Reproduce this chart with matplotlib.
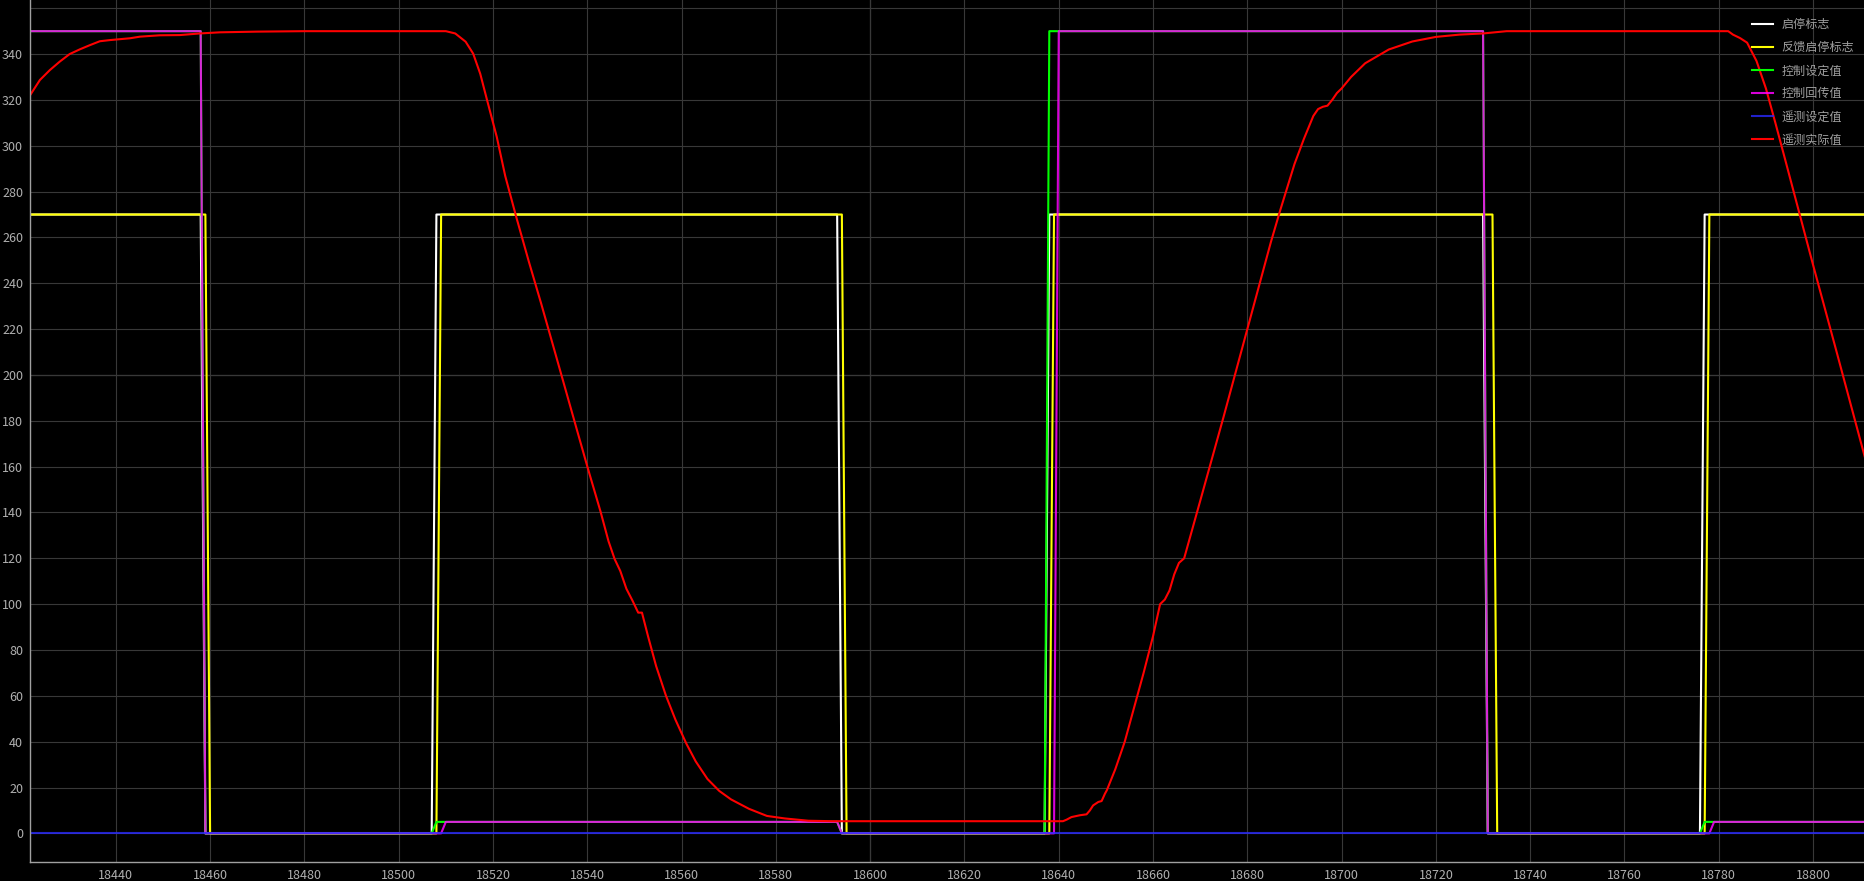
import matplotlib.pyplot as plt

plt.rcParams['font.family'] = ['Noto Sans CJK SC', 'DejaVu Sans']

# 启停标志
flag_x = [18421, 18458, 18459, 18507, 18508, 18593, 18594, 18637, 18638, 18730, 18731, 18776, 18777, 18811]
flag_y = [270, 270, 0, 0, 270, 270, 0, 0, 270, 270, 0, 0, 270, 270]
# 反馈启停标志
fb_x = [18421, 18459, 18460, 18508, 18509, 18594, 18595, 18638, 18639, 18732, 18733, 18777, 18778, 18811]
fb_y = [270, 270, 0, 0, 270, 270, 0, 0, 270, 270, 0, 0, 270, 270]
# 控制设定值
ctrl_x = [18421, 18458, 18459, 18507, 18508, 18593, 18594, 18637, 18638, 18730, 18731, 18776, 18777, 18811]
ctrl_y = [350, 350, 0, 0, 5, 5, 0, 0, 350, 350, 0, 0, 5, 5]
# 控制回传值
back_x = [18421, 18458, 18459, 18509, 18510, 18593, 18594, 18639, 18640, 18730, 18731, 18778, 18779, 18811]
back_y = [350, 350, 0, 0, 5, 5, 0, 0, 350, 350, 0, 0, 5, 5]
# 遥测设定值
tset_x = [18421, 18811]
tset_y = [0, 0]
# 遥测实际值
act_x = [18421.8, 18423.9, 18426.0, 18428.1, 18430.2, 18432.4, 18434.5, 18436.6, 18438.7, 18443.0,
         18445.1, 18449.3, 18453.6, 18457.8, 18462.1, 18470, 18480, 18510, 18512.0, 18514.2,
         18515.8, 18517.3, 18518.8, 18520.8, 18522.6, 18524.9, 18527.6, 18530.2, 18532.7, 18535.2,
         18537.7, 18540.2, 18542.8, 18544.5, 18545.8, 18547.0, 18548.3, 18549.6, 18550.8, 18551.6,
         18552.9, 18554.6, 18556.7, 18558.7, 18561.0, 18563.0, 18565.5, 18568.0, 18570.5, 18574.3,
         18578.1, 18581.9, 18586.9, 18592.0, 18640.9, 18641.7, 18642.7, 18644.5, 18645.9, 18646.6,
         18647.3, 18648.4, 18649.1, 18649.8, 18650.2, 18652, 18654, 18656, 18658, 18660,
         18661.5, 18662.5, 18663.5, 18664.5, 18665.5, 18666.6, 18670, 18675, 18680, 18685,
         18687, 18690, 18692, 18694, 18695, 18696, 18697, 18698, 18699, 18700,
         18702, 18705, 18710, 18715, 18720, 18725, 18730, 18735, 18782,
         18783, 18784.5, 18786, 18788, 18790, 18792, 18794.1, 18800, 18805, 18811]
act_y = [322.0, 328.7, 333.0, 336.7, 340.0, 342.1, 343.9, 345.6, 346.1, 346.9,
         347.6, 348.2, 348.3, 349.0, 349.5, 349.8, 350, 350, 349.0, 345.4,
         340.2, 331.4, 319.5, 303.9, 286.8, 269.2, 249.5, 231.3, 213.2, 195.0,
         176.8, 158.7, 140.5, 127.5, 119.7, 114.5, 106.7, 101.5, 96.3, 96.3,
         85.9, 73.0, 60.0, 49.6, 39.2, 31.4, 23.7, 18.5, 14.8, 10.7,
         7.6, 6.5, 5.5, 5.3, 5.3, 6.0, 7.1, 7.9, 8.3, 10.0,
         12.2, 13.7, 14.1, 17.3, 18.8, 28, 40, 55, 70, 86,
         100, 102, 106, 113, 118, 120, 145, 182, 220, 258,
         272, 292, 303, 313, 316, 317, 317.5, 320, 323, 325,
         330, 336, 342, 345.5, 347.5, 348.5, 349, 350, 350,
         348.5, 347, 345, 337, 325, 310, 293.8, 248, 210, 164]

labels = ['启停标志', '反馈启停标志', '控制设定值', '控制回传值', '遥测设定值', '遥测实际值']

fig = plt.figure(figsize=(18.64, 8.81), dpi=100, facecolor='black')
ax = fig.add_axes([30 / 1864, 1 - 862 / 881, 1 - 30 / 1864, 862 / 881])
ax.set_facecolor('black')

ax.plot(flag_x, flag_y, color='white', lw=1.5, label=labels[0])
ax.plot(fb_x, fb_y, color='yellow', lw=1.5, label=labels[1])
ax.plot(ctrl_x, ctrl_y, color='#00ff00', lw=1.5, label=labels[2])
ax.plot(back_x, back_y, color='magenta', lw=1.5, alpha=0.85, label=labels[3])
ax.plot(tset_x, tset_y, color='#2a2aff', lw=1.5, alpha=0.8, label=labels[4])
ax.plot(act_x, act_y, color='red', lw=1.5, label=labels[5])

ax.set_xlim(18421.8, 18810.8)
ax.set_ylim(-12.5, 363.6)
ax.set_xticks(range(18440, 18801, 20))
yt = list(range(0, 361, 20))
ax.set_yticks(yt)
ax.set_yticklabels([str(v) if v < 360 else '' for v in yt])

ax.grid(True, color='#383838', lw=0.8)
ax.axvline(18600, color='#909090', lw=0.8, zorder=0.5)
ax.axhline(200, color='#909090', lw=0.8, zorder=0.5)
ax.set_axisbelow(True)

for s in ['top', 'right']:
    ax.spines[s].set_visible(False)
for s in ['left', 'bottom']:
    ax.spines[s].set_color('#a0a0a0')
    ax.spines[s].set_linewidth(1)
ax.tick_params(colors='#b0b0b0', length=0, labelsize=9, pad=5)

leg = ax.legend(loc='upper right', bbox_to_anchor=(1.0, 0.990), frameon=False, fontsize=8.7,
                handlelength=1.75, handletextpad=0.7, labelspacing=0.83, borderaxespad=0.4)
for t in leg.get_texts():
    t.set_color('#a0a0a0')

fig.savefig('out.png', facecolor='black')
